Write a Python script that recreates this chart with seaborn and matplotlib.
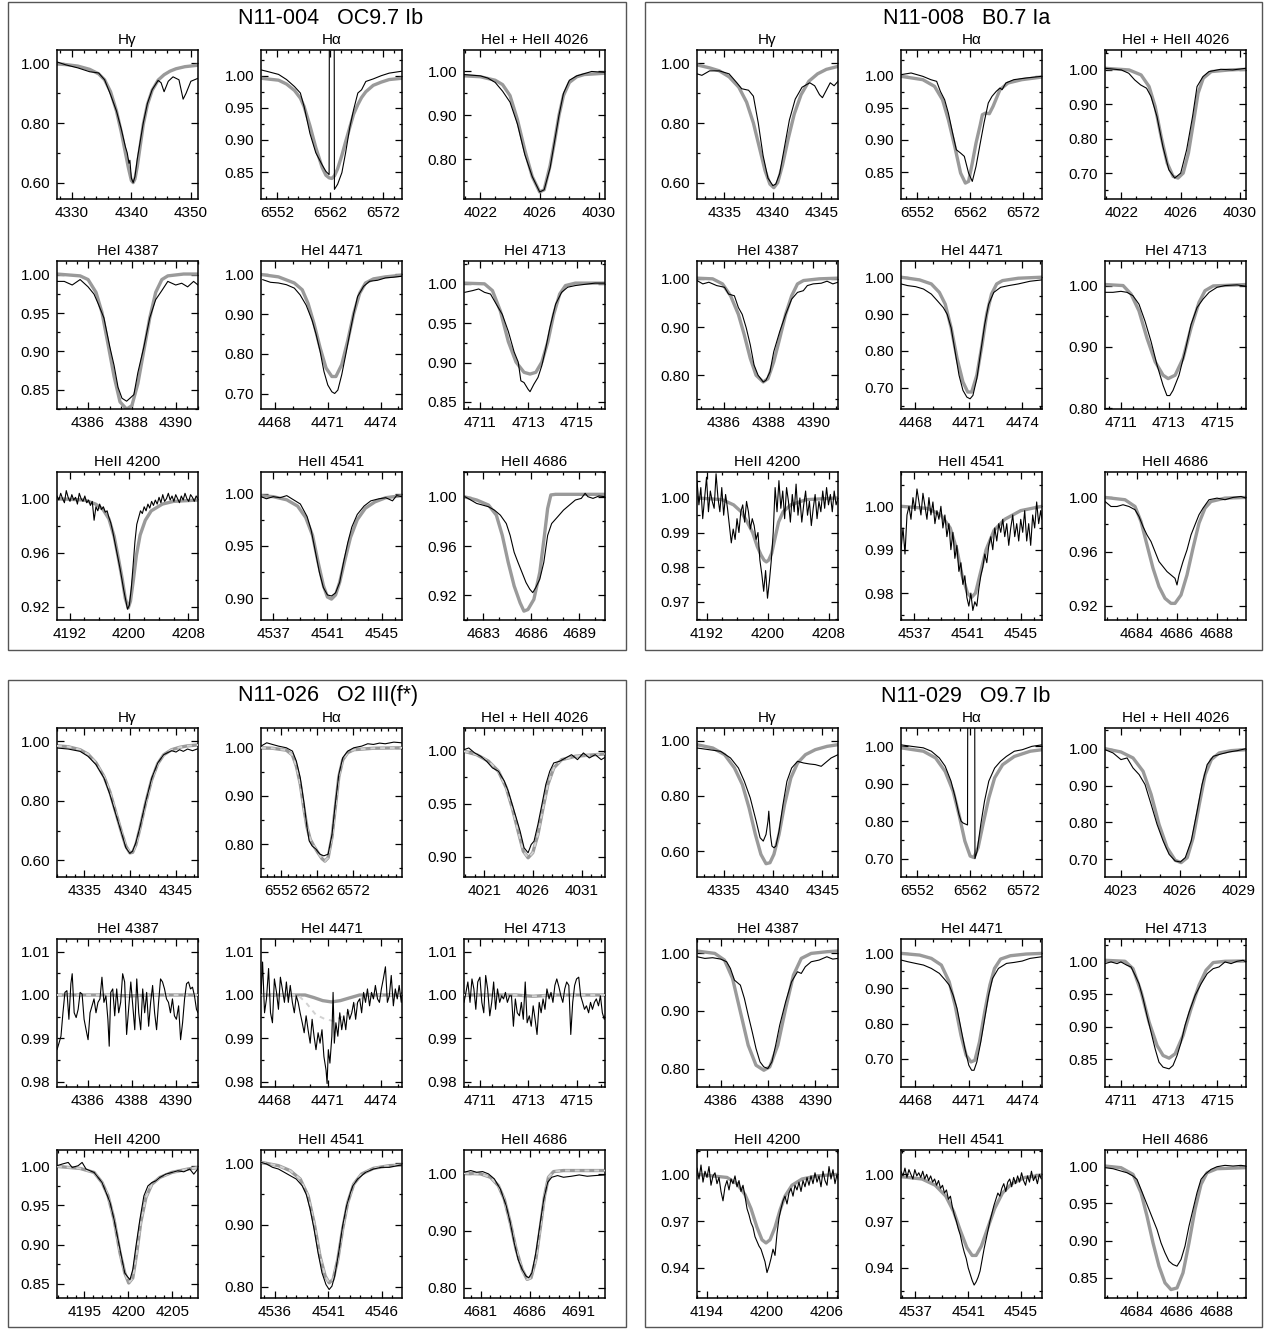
import matplotlib
matplotlib.use("Agg")
import matplotlib.pyplot as plt
import seaborn as sns
from matplotlib.ticker import FixedLocator, AutoMinorLocator, FormatStrFormatter
from matplotlib.patches import Rectangle

# ---------------------------------------------------------------- titles
STAR_TITLES = ["N11-004   OC9.7 Ib", "N11-008   B0.7 Ia",
               "N11-026   O2 III(f*)", "N11-029   O9.7 Ib"]
LINE_NAMES = ["H\u03b3", "H\u03b1", "HeI + HeII 4026",
              "HeI 4387", "HeI 4471", "HeI 4713",
              "HeII 4200", "HeII 4541", "HeII 4686"]

# ---------------------------------------------------------------- axis ranges / ticks
XLIM_A = [(4327.5, 4351.2), (6549.0, 6575.5), (4020.9, 4030.4), (4384.6, 4391.0), (4467.2, 4475.2),
          (4710.33, 4716.18), (4190.3, 4209.3), (4536.1, 4546.5), (4681.8, 4690.6)]
XTICKS_A = [[4330, 4340, 4350], [6552, 6562, 6572], [4022, 4026, 4030], [4386, 4388, 4390], [4468, 4471, 4474],
            [4711, 4713, 4715], [4192, 4200, 4208], [4537, 4541, 4545], [4683, 4686, 4689]]
YLIM_A = [(0.545, 1.045), (0.808, 1.040), (0.709, 1.049), (0.825, 1.018), (0.661, 1.034),
          (0.841, 1.029), (0.910, 1.0198), (0.879, 1.0206), (0.900, 1.020)]
YTICKS_A = [[0.6, 0.8, 1.0], [0.85, 0.9, 0.95, 1.0], [0.8, 0.9, 1.0], [0.85, 0.9, 0.95, 1.0], [0.7, 0.8, 0.9, 1.0],
            [0.85, 0.9, 0.95, 1.0], [0.92, 0.96, 1.0], [0.9, 0.95, 1.0], [0.92, 0.96, 1.0]]

XLIM_B = [(4332.2, 4346.7), (6549.0, 6575.5), (4020.9, 4030.4), (4384.8, 4391.1), (4467.2, 4475.1),
          (4710.35, 4716.2), (4190.7, 4209.2), (4536.0, 4546.6), (4682.4, 4689.45)]
XTICKS_B = [[4335, 4340, 4345], [6552, 6562, 6572], [4022, 4026, 4030], [4386, 4388, 4390], [4468, 4471, 4474],
            [4711, 4713, 4715], [4192, 4200, 4208], [4537, 4541, 4545], [4684, 4686, 4688]]
YLIM_B = [(0.545, 1.045), (0.808, 1.040), (0.6245, 1.058), (0.73, 1.037), (0.642, 1.044),
          (0.799, 1.04), (0.9647, 1.0075), (0.9738, 1.0079), (0.9094, 1.0188)]
YTICKS_B = [[0.6, 0.8, 1.0], [0.85, 0.9, 0.95, 1.0], [0.7, 0.8, 0.9, 1.0], [0.8, 0.9, 1.0], [0.7, 0.8, 0.9, 1.0],
            [0.8, 0.9, 1.0], [0.97, 0.98, 0.99, 1.0], [0.98, 0.99, 1.0], [0.92, 0.96, 1.0]]

XLIM_C = [(4332.0, 4347.4), (6546.3, 6585.8), (4018.9, 4033.4), (4384.6, 4391.0), (4467.2, 4475.2),
          (4710.33, 4716.18), (4191.9, 4207.9), (4534.7, 4547.9), (4679.3, 4693.7)]
XTICKS_C = [[4335, 4340, 4345], [6552, 6562, 6572], [4021, 4026, 4031], [4386, 4388, 4390], [4468, 4471, 4474],
            [4711, 4713, 4715], [4195, 4200, 4205], [4536, 4541, 4546], [4681, 4686, 4691]]
YLIM_C = [(0.544, 1.045), (0.732, 1.041), (0.881, 1.0213), (0.9788, 1.0129), (0.9788, 1.0129),
          (0.9788, 1.0129), (0.8316, 1.021), (0.782, 1.021), (0.782, 1.042)]
YTICKS_C = [[0.6, 0.8, 1.0], [0.8, 0.9, 1.0], [0.9, 0.95, 1.0], [0.98, 0.99, 1.0, 1.01], [0.98, 0.99, 1.0, 1.01],
            [0.98, 0.99, 1.0, 1.01], [0.85, 0.9, 0.95, 1.0], [0.8, 0.9, 1.0], [0.8, 0.9, 1.0]]

XLIM_D = [(4332.3, 4346.6), (6549.0, 6575.5), (4022.2, 4029.35), (4385.0, 4390.95), (4467.2, 4475.1),
          (4710.35, 4716.2), (4193.0, 4207.1), (4535.9, 4546.6), (4682.4, 4689.45)]
XTICKS_D = [[4335, 4340, 4345], [6552, 6562, 6572], [4023, 4026, 4029], [4386, 4388, 4390], [4468, 4471, 4474],
            [4711, 4713, 4715], [4194, 4200, 4206], [4537, 4541, 4545], [4684, 4686, 4688]]
YLIM_D = [(0.506, 1.046), (0.651, 1.049), (0.652, 1.056), (0.768, 1.025), (0.619, 1.041),
          (0.808, 1.034), (0.9207, 1.0156), (0.9207, 1.0156), (0.823, 1.0215)]
YTICKS_D = [[0.6, 0.8, 1.0], [0.7, 0.8, 0.9, 1.0], [0.7, 0.8, 0.9, 1.0], [0.8, 0.9, 1.0], [0.7, 0.8, 0.9, 1.0],
            [0.85, 0.9, 0.95, 1.0], [0.94, 0.97, 1.0], [0.94, 0.97, 1.0], [0.85, 0.9, 0.95, 1.0]]

# ================================================================ N11-004
A1_WL = [4327.5, 4329.0, 4331.0, 4333.0, 4334.5, 4335.5, 4336.5, 4337.5, 4338.3, 4339.0, 4339.3, 4339.6, 4339.75,
         4340.0, 4340.3, 4340.6, 4341.0, 4341.5, 4342.0, 4342.7, 4343.5, 4344.5, 4345.0, 4345.5, 4346.2, 4347.0,
         4348.0, 4348.7, 4349.2, 4350.0, 4351.2]
A1_OBS = [1.005, 0.995, 0.985, 0.972, 0.968, 0.945, 0.895, 0.84, 0.78, 0.72, 0.70, 0.665, 0.675, 0.615, 0.60, 0.62,
          0.68, 0.74, 0.80, 0.866, 0.912, 0.943, 0.935, 0.905, 0.94, 0.955, 0.945, 0.88, 0.90, 0.94, 0.95]
A1_MWL = [4327.5, 4329.0, 4331.0, 4333.0, 4334.5, 4335.5, 4336.5, 4337.5, 4338.3, 4339.0, 4339.5, 4340.0, 4340.3,
          4340.6, 4341.0, 4341.5, 4342.0, 4342.7, 4343.5, 4344.5, 4345.5, 4346.5, 4347.5, 4349.0, 4351.2]
A1_MOD = [0.998, 0.996, 0.991, 0.980, 0.965, 0.945, 0.905, 0.84, 0.77, 0.70, 0.65, 0.607, 0.60, 0.612, 0.655, 0.725,
          0.795, 0.862, 0.91, 0.944, 0.962, 0.974, 0.982, 0.989, 0.994]

A2_WL = [6549.0, 6550.0, 6552.3, 6553.8, 6555.3, 6556.4, 6557.1, 6558.2, 6559.3, 6560.5, 6561.2, 6561.8, 6561.85,
         6562.75, 6562.8, 6563.4, 6564.2, 6564.9, 6565.7, 6566.4, 6567.2, 6567.9, 6568.7, 6570.1, 6571.6, 6573.1,
         6575.5]
A2_OBS = [1.009, 1.007, 1.002, 0.994, 0.983, 0.973, 0.952, 0.91, 0.88, 0.861, 0.851, 0.846, 1.10, 1.10, 0.823,
          0.831, 0.849, 0.88, 0.92, 0.947, 0.973, 0.978, 0.991, 0.995, 1.0, 1.004, 1.007]
A2_MWL = [6549.0, 6552.3, 6553.8, 6555.3, 6556.4, 6557.1, 6558.2, 6559.3, 6560.5, 6561.2, 6561.8, 6562.3, 6562.8,
          6563.4, 6564.2, 6564.9, 6565.7, 6566.4, 6567.2, 6567.9, 6568.7, 6570.1, 6571.6, 6573.1, 6575.5]
A2_MOD = [0.996, 0.993, 0.987, 0.977, 0.965, 0.952, 0.922, 0.888, 0.857, 0.845, 0.841, 0.84, 0.844, 0.855, 0.876,
          0.897, 0.92, 0.94, 0.955, 0.966, 0.975, 0.985, 0.99, 0.994, 0.996]

A3_WL = [4020.9, 4022.0, 4022.5, 4023.0, 4023.5, 4024.0, 4024.5, 4025.0, 4025.5, 4026.0, 4026.3, 4026.7, 4027.0,
         4027.3, 4027.6, 4028.0, 4028.5, 4029.0, 4029.5, 4030.4]
A3_OBS = [0.993, 0.99, 0.985, 0.975, 0.955, 0.93, 0.88, 0.81, 0.76, 0.725, 0.73, 0.78, 0.84, 0.90, 0.95, 0.98, 0.99,
          0.995, 1.0, 0.998]
A3_MWL = [4020.9, 4022.0, 4023.0, 4023.5, 4024.0, 4024.5, 4025.0, 4025.5, 4026.0, 4026.3, 4026.7, 4027.0, 4027.3,
          4027.6, 4028.0, 4028.5, 4029.0, 4030.4]
A3_MOD = [0.99, 0.988, 0.98, 0.97, 0.945, 0.89, 0.82, 0.76, 0.725, 0.73, 0.785, 0.84, 0.90, 0.945, 0.975, 0.988,
          0.993, 0.996]

A4_WL = [4384.6, 4384.93, 4385.29, 4385.65, 4386.01, 4386.28, 4386.46, 4386.73, 4387.0, 4387.19, 4387.37, 4387.55,
         4387.76, 4387.91, 4388.09, 4388.27, 4388.54, 4388.81, 4389.08, 4389.36, 4389.63, 4389.99, 4390.26, 4390.53,
         4390.8, 4391.0]
A4_OBS = [0.9914, 0.9914, 0.9867, 0.9938, 0.9843, 0.9748, 0.9629, 0.9438, 0.9057, 0.8819, 0.8533, 0.839, 0.8352,
          0.839, 0.8438, 0.8724, 0.9057, 0.9438, 0.9676, 0.9795, 0.9914, 0.9867, 0.989, 0.9843, 0.9914, 0.9867]
A4_MWL = [4384.6, 4385.65, 4386.01, 4386.37, 4386.64, 4386.91, 4387.19, 4387.46, 4387.76, 4388.0, 4388.27, 4388.54,
          4388.81, 4389.08, 4389.36, 4389.63, 4390.35, 4391.0]
A4_MOD = [1.001, 0.9986, 0.9938, 0.9771, 0.951, 0.9105, 0.8676, 0.8343, 0.8248, 0.8295, 0.8581, 0.901, 0.9438,
          0.9771, 0.9938, 0.9986, 1.001, 1.001]

A5_WL = [4467.29, 4467.74, 4468.19, 4468.64, 4469.09, 4469.42, 4469.76, 4470.1, 4470.32, 4470.55, 4470.77, 4470.99,
         4471.22, 4471.38, 4471.56, 4471.78, 4472.01, 4472.23, 4472.46, 4472.68, 4473.02, 4473.36, 4473.81, 4474.26,
         4474.71, 4475.2]
A5_OBS = [0.9871, 0.9803, 0.9786, 0.9743, 0.9657, 0.9486, 0.9229, 0.8843, 0.85, 0.8072, 0.7558, 0.7215, 0.7044,
          0.7001, 0.7087, 0.7472, 0.7986, 0.85, 0.9015, 0.9443, 0.97, 0.9829, 0.9854, 0.9914, 0.9931, 0.9957]
A5_MWL = [4467.2, 4468.19, 4469.09, 4469.54, 4469.87, 4470.21, 4470.55, 4470.89, 4471.22, 4471.45, 4471.78, 4472.12,
          4472.46, 4472.8, 4473.13, 4473.58, 4474.26, 4475.2]
A5_MOD = [1.0, 0.994, 0.9786, 0.9614, 0.9272, 0.8757, 0.8158, 0.7644, 0.7429, 0.7429, 0.7729, 0.8329, 0.9015,
          0.9529, 0.9786, 0.9889, 0.994, 0.9983]

A6_WL = [4710.36, 4710.69, 4710.94, 4711.18, 4711.43, 4711.67, 4711.92, 4712.17, 4712.41, 4712.58, 4712.69, 4712.82,
         4712.99, 4713.07, 4713.23, 4713.4, 4713.56, 4713.72, 4713.89, 4714.13, 4714.38, 4714.63, 4714.95, 4715.28,
         4715.77, 4716.18]
A6_OBS = [0.9892, 0.9914, 0.9935, 0.9892, 0.987, 0.9741, 0.9611, 0.9395, 0.9135, 0.9006, 0.8768, 0.8746, 0.866,
          0.863, 0.8725, 0.8811, 0.8962, 0.9179, 0.9438, 0.9741, 0.9892, 0.9957, 0.9978, 0.9991, 1.0009, 1.0009]
A6_MWL = [4710.33, 4711.18, 4711.51, 4711.84, 4712.17, 4712.49, 4712.82, 4713.07, 4713.31, 4713.56, 4713.81,
          4714.05, 4714.3, 4714.54, 4714.95, 4716.18]
A6_MOD = [1.0009, 1.0, 0.9914, 0.9654, 0.9265, 0.9006, 0.8876, 0.8854, 0.8876, 0.9006, 0.9265, 0.9611, 0.987,
          0.9978, 1.0009, 1.0009]

A7_WL = [4190.30, 4190.55, 4190.80, 4191.05, 4191.30, 4191.55, 4191.80, 4192.05, 4192.30, 4192.55,
         4192.80, 4193.05, 4193.30, 4193.55, 4193.80, 4194.05, 4194.30, 4194.55, 4194.80, 4195.05,
         4195.30, 4195.55, 4195.80, 4196.05, 4196.30, 4196.55, 4196.80, 4197.05, 4197.30, 4197.55,
         4197.80, 4198.05, 4198.30, 4198.55, 4198.80, 4199.05, 4199.30, 4199.55, 4199.80, 4200.05,
         4200.30, 4200.55, 4200.80, 4201.05, 4201.30, 4201.55, 4201.80, 4202.05, 4202.30, 4202.55,
         4202.80, 4203.05, 4203.30, 4203.55, 4203.80, 4204.05, 4204.30, 4204.55, 4204.80, 4205.05,
         4205.30, 4205.55, 4205.80, 4206.05, 4206.30, 4206.55, 4206.80, 4207.05, 4207.30, 4207.55,
         4207.80, 4208.05, 4208.30, 4208.55, 4208.80, 4209.05, 4209.30]
A7_OBS = [1.002, 0.999, 1.004, 1.000, 0.997, 1.006, 1.001, 0.998, 1.003, 0.999,
          1.001, 0.996, 1.004, 1.000, 0.998, 1.002, 0.997, 0.999, 0.995, 0.998,
          0.984, 0.994, 0.991, 0.996, 0.992, 0.994, 0.990, 0.991, 0.986, 0.982,
          0.976, 0.969, 0.962, 0.955, 0.948, 0.940, 0.932, 0.925, 0.918, 0.921,
          0.933, 0.950, 0.968, 0.981, 0.986, 0.991, 0.989, 0.994, 0.991, 0.996,
          0.993, 0.998, 0.995, 0.999, 0.996, 1.001, 0.997, 1.003, 0.998, 1.000,
          1.004, 0.999, 1.002, 0.998, 1.003, 1.000, 0.997, 1.002, 0.999, 1.004,
          1.000, 0.998, 1.003, 1.001, 0.998, 1.002, 1.000]
A7_MWL = [4190.3, 4194.0, 4195.5, 4196.5, 4197.3, 4198.0, 4198.6, 4199.1, 4199.5, 4199.9, 4200.2, 4200.6, 4201.0,
          4201.5, 4202.2, 4203.0, 4204.5, 4206.0, 4209.3]
A7_MOD = [1.0, 0.999, 0.996, 0.992, 0.985, 0.972, 0.955, 0.94, 0.926, 0.919, 0.924, 0.94, 0.958, 0.973, 0.984,
          0.991, 0.996, 0.998, 0.999]

A8_WL = [4536.1, 4536.5, 4537.0, 4537.5, 4538.0, 4538.5, 4539.0, 4539.5, 4539.8, 4540.1, 4540.4, 4540.7, 4541.0,
         4541.3, 4541.6, 4541.9, 4542.2, 4542.5, 4542.8, 4543.2, 4543.7, 4544.2, 4544.8, 4545.3, 4545.8, 4546.1,
         4546.5]
A8_OBS = [0.997, 0.995, 0.997, 0.996, 0.998, 0.994, 0.99, 0.978, 0.965, 0.945, 0.925, 0.91, 0.903, 0.902, 0.905,
          0.915, 0.935, 0.953, 0.968, 0.98, 0.988, 0.993, 0.995, 0.996, 0.993, 0.998, 0.997]
A8_MWL = [4536.1, 4537.0, 4538.0, 4538.8, 4539.4, 4539.9, 4540.3, 4540.7, 4541.0, 4541.3, 4541.6, 4541.9, 4542.3,
          4542.7, 4543.2, 4543.8, 4544.5, 4545.3, 4546.5]
A8_MOD = [0.998, 0.997, 0.994, 0.988, 0.977, 0.96, 0.935, 0.912, 0.901, 0.899, 0.903, 0.915, 0.937, 0.958, 0.975,
          0.986, 0.992, 0.996, 0.998]

A9_WL = [4681.85, 4682.22, 4682.59, 4682.96, 4683.33, 4683.7, 4684.07, 4684.44, 4684.68, 4684.93, 4685.17, 4685.42,
         4685.67, 4685.91, 4686.09, 4686.28, 4686.53, 4686.78, 4687.02, 4687.27, 4687.64, 4688.01, 4688.38, 4688.75,
         4689.12, 4689.36, 4689.53, 4689.85, 4690.22, 4690.6]
A9_OBS = [1.0, 0.9973, 0.9945, 0.9932, 0.9918, 0.9891, 0.985, 0.9782, 0.9686, 0.9549, 0.9467, 0.9386, 0.9304,
          0.9249, 0.9222, 0.9263, 0.9331, 0.9467, 0.9686, 0.9782, 0.9836, 0.9891, 0.9932, 0.9973, 0.9986, 1.0027,
          1.0, 0.9986, 1.0005, 1.0]
A9_MWL = [4681.8, 4682.59, 4683.33, 4683.82, 4684.19, 4684.56, 4684.93, 4685.3, 4685.54, 4685.79, 4686.16, 4686.53,
          4686.82, 4687.02, 4687.22, 4687.51, 4690.6]
A9_MOD = [1.0, 0.9973, 0.9932, 0.985, 0.9686, 0.9467, 0.9276, 0.914, 0.9072, 0.9085, 0.9167, 0.9386, 0.9686,
          0.9904, 1.0014, 1.0019, 1.0019]

# ================================================================ N11-008
B1_WL = [4332.2, 4332.7, 4333.5, 4334.5, 4335.5, 4336.3, 4336.8, 4337.5, 4338.0, 4338.5, 4339.0, 4339.5, 4340.0,
         4340.3, 4340.7, 4341.2, 4341.7, 4342.3, 4343.0, 4343.8, 4344.3, 4344.8, 4345.1, 4345.5, 4345.9, 4346.3,
         4346.7]
B1_OBS = [0.965, 0.96, 0.975, 0.975, 0.965, 0.935, 0.915, 0.91, 0.89, 0.80, 0.69, 0.615, 0.59, 0.595, 0.63, 0.72,
          0.81, 0.88, 0.92, 0.935, 0.925, 0.895, 0.885, 0.91, 0.935, 0.925, 0.94]
B1_MWL = [4332.2, 4333.5, 4334.5, 4335.5, 4336.5, 4337.3, 4338.0, 4338.6, 4339.2, 4339.7, 4340.1, 4340.5, 4341.0,
          4341.6, 4342.2, 4342.9, 4343.7, 4344.6, 4345.5, 4346.7]
B1_MOD = [0.995, 0.985, 0.975, 0.955, 0.92, 0.87, 0.80, 0.72, 0.64, 0.595, 0.583, 0.60, 0.66, 0.75, 0.83, 0.895,
          0.94, 0.965, 0.98, 0.99]

B2_WL = [6549.0, 6550.9, 6553.1, 6554.6, 6555.7, 6556.4, 6557.2, 6557.9, 6558.7, 6559.4, 6560.2, 6560.9, 6561.7,
         6562.4, 6563.1, 6563.9, 6564.6, 6565.4, 6566.1, 6566.9, 6567.6, 6568.0, 6568.7, 6570.2, 6572.5, 6575.4]
B2_OBS = [1.0016, 1.0042, 0.999, 0.9938, 0.9912, 0.9756, 0.9626, 0.9418, 0.9107, 0.8847, 0.8795, 0.8744, 0.8484,
          0.8354, 0.8588, 0.8951, 0.9263, 0.9574, 0.9678, 0.9756, 0.9808, 0.9782, 0.9886, 0.9938, 0.9964, 0.999]
B2_MWL = [6549.0, 6553.1, 6555.3, 6556.8, 6557.9, 6559.1, 6560.2, 6561.1, 6561.7, 6562.4, 6563.1, 6563.9, 6564.3,
          6564.9, 6565.6, 6566.3, 6567.6, 6569.1, 6571.7, 6575.5]
B2_MOD = [0.999, 0.9938, 0.9834, 0.9626, 0.9315, 0.8899, 0.8484, 0.8328, 0.8354, 0.864, 0.8951, 0.9237, 0.9393,
          0.9418, 0.9408, 0.9522, 0.9782, 0.9886, 0.9938, 0.9979]

B3_WL = [4020.9, 4022.0, 4022.5, 4022.9, 4023.3, 4023.7, 4024.0, 4024.4, 4024.8, 4025.2, 4025.6, 4026.0, 4026.4,
         4026.8, 4027.1, 4027.5, 4027.9, 4028.7, 4029.5, 4030.4]
B3_OBS = [1.0048, 1.0, 0.9903, 0.971, 0.9564, 0.9468, 0.9226, 0.8645, 0.7773, 0.7096, 0.6854, 0.6999, 0.7677,
          0.8645, 0.9516, 0.9806, 0.9952, 1.0019, 1.0, 1.0048]
B3_MWL = [4020.9, 4022.52, 4023.33, 4023.87, 4024.28, 4024.68, 4025.09, 4025.49, 4025.82, 4026.17, 4026.52,
          4026.85, 4027.17, 4027.52, 4028.06, 4029.28, 4030.41]
B3_MOD = [1.0048, 1.0, 0.9855, 0.9516, 0.8935, 0.8064, 0.7289, 0.6902, 0.6854, 0.6999, 0.758, 0.8451, 0.9322,
          0.9758, 0.9952, 1.0, 1.0019]

B4_WL = [4384.8, 4385.06, 4385.33, 4385.68, 4386.03, 4386.21, 4386.47, 4386.65, 4386.82, 4387.0, 4387.18, 4387.35,
         4387.53, 4387.76, 4387.88, 4388.06, 4388.23, 4388.5, 4388.76, 4389.03, 4389.29, 4389.55, 4389.73, 4389.99,
         4390.35, 4390.61, 4390.87, 4391.1]
B4_OBS = [0.9965, 0.9895, 0.993, 0.986, 0.9825, 0.9684, 0.9649, 0.9404, 0.9263, 0.8982, 0.8632, 0.8211, 0.8, 0.786,
          0.7895, 0.807, 0.8491, 0.8912, 0.9263, 0.9579, 0.9719, 0.9754, 0.986, 0.9895, 0.9909, 0.9951, 0.9895, 0.993]
B4_MWL = [4384.8, 4385.5, 4385.94, 4386.3, 4386.65, 4386.91, 4387.18, 4387.44, 4387.76, 4387.97, 4388.23, 4388.5,
          4388.76, 4389.03, 4389.29, 4389.56, 4390.26, 4391.1]
B4_MOD = [1.0014, 1.0, 0.9895, 0.9649, 0.9263, 0.8842, 0.8351, 0.8, 0.786, 0.793, 0.8281, 0.8772, 0.9263, 0.9649,
          0.9895, 0.9965, 1.0, 1.0014]

B5_WL = [4467.2, 4467.58, 4468.02, 4468.46, 4468.9, 4469.24, 4469.57, 4469.79, 4470.01, 4470.23, 4470.45, 4470.67,
         4470.89, 4471.07, 4471.23, 4471.45, 4471.67, 4471.89, 4472.11, 4472.4, 4472.78, 4473.22, 4473.77, 4474.43,
         4475.1]
B5_OBS = [0.9817, 0.9771, 0.9743, 0.9679, 0.9541, 0.9358, 0.9174, 0.8991, 0.8624, 0.7982, 0.7339, 0.6927, 0.6743,
          0.6697, 0.6789, 0.7248, 0.7982, 0.8716, 0.9266, 0.9587, 0.9725, 0.9771, 0.9817, 0.989, 0.9927]
B5_MWL = [4467.2, 4468.24, 4468.9, 4469.35, 4469.68, 4470.01, 4470.34, 4470.67, 4470.94, 4471.16, 4471.45, 4471.74,
          4472.0, 4472.27, 4472.56, 4472.89, 4473.77, 4475.1]
B5_MOD = [1.0, 0.9927, 0.9817, 0.9587, 0.9266, 0.8624, 0.7798, 0.7156, 0.6881, 0.6881, 0.7339, 0.8165, 0.8991,
          0.9541, 0.9817, 0.9908, 0.9972, 1.0]

B6_WL = [4710.35, 4710.68, 4711.01, 4711.26, 4711.51, 4711.76, 4712.01, 4712.26, 4712.51, 4712.76, 4712.92, 4713.04,
         4713.17, 4713.42, 4713.67, 4713.92, 4714.17, 4714.42, 4714.67, 4715.0, 4715.33, 4715.83, 4716.2]
B6_OBS = [0.989, 0.989, 0.9906, 0.989, 0.9835, 0.9697, 0.9421, 0.9091, 0.8705, 0.8375, 0.8209, 0.8209, 0.8292,
          0.854, 0.8926, 0.9366, 0.9642, 0.978, 0.989, 0.9972, 1.0, 1.0011, 0.9989]
B6_MWL = [4710.35, 4711.1, 4711.43, 4711.76, 4712.09, 4712.43, 4712.76, 4712.97, 4713.26, 4713.59, 4713.92, 4714.25,
          4714.5, 4714.84, 4716.2]
B6_MOD = [1.0017, 1.0, 0.9862, 0.9587, 0.9146, 0.876, 0.854, 0.8485, 0.854, 0.8815, 0.9311, 0.9725, 0.9917, 0.9994,
          1.0017]

B7_WL = [4190.70, 4190.95, 4191.20, 4191.45, 4191.70, 4191.95, 4192.20, 4192.45, 4192.70, 4192.95,
         4193.20, 4193.45, 4193.70, 4193.95, 4194.20, 4194.45, 4194.70, 4194.95, 4195.20, 4195.45,
         4195.70, 4195.95, 4196.20, 4196.45, 4196.70, 4196.95, 4197.20, 4197.45, 4197.70, 4197.95,
         4198.20, 4198.45, 4198.70, 4198.95, 4199.20, 4199.45, 4199.70, 4199.95, 4200.20, 4200.45,
         4200.70, 4200.95, 4201.20, 4201.45, 4201.70, 4201.95, 4202.20, 4202.45, 4202.70, 4202.95,
         4203.20, 4203.45, 4203.70, 4203.95, 4204.20, 4204.45, 4204.70, 4204.95, 4205.20, 4205.45,
         4205.70, 4205.95, 4206.20, 4206.45, 4206.70, 4206.95, 4207.20, 4207.45, 4207.70, 4207.95,
         4208.20, 4208.45, 4208.70, 4208.95, 4209.20]
B7_OBS = [1.005, 0.998, 1.003, 0.994, 1.000, 1.006, 0.996, 1.002, 0.999, 0.997,
          1.007, 1.000, 0.996, 1.003, 0.995, 1.001, 0.997, 0.992, 0.987, 0.991,
          0.988, 0.994, 0.990, 0.996, 0.998, 0.993, 0.999, 0.996, 0.991, 0.994,
          0.992, 0.988, 0.990, 0.982, 0.978, 0.973, 0.979, 0.971, 0.976, 0.982,
          0.990, 1.003, 0.996, 1.005, 0.997, 1.002, 0.994, 1.003, 0.999, 0.993,
          1.001, 0.996, 1.004, 0.995, 1.000, 0.993, 0.998, 1.002, 0.995, 0.999,
          0.992, 0.997, 1.001, 0.994, 0.999, 0.996, 1.002, 0.997, 1.003, 0.998,
          1.001, 0.996, 1.002, 0.998, 1.000]
B7_MWL = [4190.7, 4194.0, 4195.5, 4196.5, 4197.3, 4198.0, 4198.6, 4199.1, 4199.5, 4199.8, 4200.1, 4200.5, 4200.9,
          4201.4, 4202.0, 4203.0, 4205.0, 4209.2]
B7_MOD = [1.0, 0.9995, 0.998, 0.996, 0.993, 0.99, 0.986, 0.9835, 0.982, 0.9815, 0.982, 0.984, 0.988, 0.993, 0.996,
          0.998, 0.9995, 1.0]

B8_WL = [4536.00, 4536.15, 4536.30, 4536.45, 4536.60, 4536.75, 4536.90, 4537.05, 4537.20, 4537.35,
         4537.50, 4537.65, 4537.80, 4537.95, 4538.10, 4538.25, 4538.40, 4538.55, 4538.70, 4538.85,
         4539.00, 4539.15, 4539.30, 4539.45, 4539.60, 4539.75, 4539.90, 4540.05, 4540.20, 4540.35,
         4540.50, 4540.65, 4540.80, 4540.95, 4541.10, 4541.25, 4541.40, 4541.55, 4541.70, 4541.85,
         4542.00, 4542.15, 4542.30, 4542.45, 4542.60, 4542.75, 4542.90, 4543.05, 4543.20, 4543.35,
         4543.50, 4543.65, 4543.80, 4543.95, 4544.10, 4544.25, 4544.40, 4544.55, 4544.70, 4544.85,
         4545.00, 4545.15, 4545.30, 4545.45, 4545.60, 4545.75, 4545.90, 4546.05, 4546.20, 4546.35,
         4546.50, 4546.60]
B8_OBS = [0.990, 0.995, 0.989, 0.998, 1.000, 0.997, 1.002, 0.999, 1.004, 1.001,
          0.998, 1.003, 1.000, 0.997, 1.002, 0.998, 1.001, 0.996, 0.999, 0.997,
          1.000, 0.995, 0.998, 0.993, 0.996, 0.990, 0.994, 0.988, 0.991, 0.985,
          0.987, 0.982, 0.984, 0.979, 0.977, 0.980, 0.976, 0.978, 0.977, 0.981,
          0.984, 0.986, 0.989, 0.987, 0.991, 0.993, 0.990, 0.995, 0.992, 0.996,
          0.994, 0.997, 0.993, 0.996, 0.991, 0.995, 0.998, 0.993, 0.996, 0.992,
          0.997, 0.994, 0.999, 0.992, 0.996, 0.991, 0.998, 0.995, 1.001, 0.996,
          0.999, 0.997]
B8_MWL = [4536.0, 4538.0, 4539.0, 4539.7, 4540.2, 4540.6, 4541.0, 4541.3, 4541.6, 4542.0, 4542.4, 4543.0, 4543.8,
          4545.0, 4546.6]
B8_MOD = [1.0, 0.9995, 0.998, 0.995, 0.99, 0.984, 0.98, 0.979, 0.98, 0.985, 0.99, 0.9945, 0.997, 0.999, 1.0]

B9_WL = [4682.4, 4682.7, 4683.0, 4683.3, 4683.6, 4683.9, 4684.1, 4684.3, 4684.5, 4684.7, 4684.9, 4685.1, 4685.3,
         4685.5, 4685.7, 4685.9, 4686.0, 4686.1, 4686.3, 4686.5, 4686.7, 4686.9, 4687.1, 4687.3, 4687.6, 4688.0,
         4688.4, 4688.8, 4689.2, 4689.45]
B9_OBS = [0.997, 0.9933, 0.9933, 0.9946, 0.9933, 0.9909, 0.9859, 0.9785, 0.9723, 0.9674, 0.96, 0.9526, 0.9489,
          0.9452, 0.9427, 0.9402, 0.9353, 0.9427, 0.9526, 0.9612, 0.9723, 0.9798, 0.9872, 0.9921, 0.9983, 0.9995,
          0.9983, 1.0, 1.0007, 0.9995]
B9_MWL = [4682.4, 4683.4, 4683.9, 4684.2, 4684.5, 4684.8, 4685.1, 4685.4, 4685.7, 4685.9, 4686.2, 4686.5, 4686.8,
          4687.1, 4687.4, 4687.7, 4688.4, 4689.45]
B9_MOD = [1.0, 0.9983, 0.9933, 0.9822, 0.9649, 0.9477, 0.9341, 0.9254, 0.9217, 0.9217, 0.9279, 0.9427, 0.9625,
          0.981, 0.9921, 0.997, 0.9995, 1.0]

# ================================================================ N11-026
C1_WL = [4332.0, 4333.22, 4334.52, 4335.39, 4336.26, 4337.13, 4337.78, 4338.43, 4339.09, 4339.52, 4339.96, 4340.26,
         4340.61, 4341.04, 4341.7, 4342.35, 4343.0, 4343.65, 4344.52, 4345.0, 4345.39, 4345.8, 4346.26, 4346.8,
         4347.4]
C1_OBS = [0.9777, 0.9743, 0.9665, 0.9497, 0.9218, 0.8771, 0.8212, 0.7542, 0.6872, 0.6425, 0.6235, 0.6313, 0.6592,
          0.7095, 0.7989, 0.8771, 0.9274, 0.9553, 0.9687, 0.9642, 0.9721, 0.9665, 0.9743, 0.9687, 0.9754]
C1_MWL = [4332.0, 4333.22, 4334.52, 4335.39, 4336.26, 4337.13, 4337.78, 4338.43, 4339.09, 4339.52, 4339.96,
          4340.26, 4340.61, 4341.04, 4341.7, 4342.35, 4343.0, 4343.65, 4344.52, 4345.39, 4346.26, 4347.4]
C1_MOD = [0.985, 0.982, 0.972, 0.957, 0.928, 0.882, 0.83, 0.76, 0.69, 0.648, 0.625, 0.627, 0.652, 0.705, 0.795,
          0.872, 0.925, 0.955, 0.972, 0.98, 0.985, 0.988]

C2_WL = [6546.3, 6547.9, 6549.5, 6551.2, 6553.4, 6555.1, 6556.2, 6557.3, 6558.4, 6559.2, 6559.8, 6560.6, 6561.7,
         6562.8, 6563.9, 6565.1, 6566.2, 6567.1, 6568.1, 6569.2, 6570.6, 6572.3, 6574.5, 6576.2, 6577.8, 6579.5,
         6581.1, 6583.5, 6585.8]
C2_OBS = [1.0034, 1.0103, 1.0069, 1.0034, 1.0, 0.9931, 0.9724, 0.9379, 0.8828, 0.8345, 0.8069, 0.7966, 0.7897,
          0.7793, 0.7759, 0.7793, 0.8207, 0.8828, 0.9448, 0.9793, 0.9931, 1.0, 1.0034, 1.0083, 1.0069, 1.0097,
          1.0083, 1.0117, 1.0103]
C2_MWL = [6546.3, 6549.5, 6553.4, 6555.1, 6556.2, 6557.3, 6558.4, 6559.2, 6560.1, 6561.2, 6562.3, 6563.4, 6564.2,
          6565.1, 6566.2, 6567.1, 6568.1, 6569.2, 6570.6, 6572.3, 6577.8, 6585.8]
C2_MOD = [1.0, 0.999, 0.995, 0.985, 0.962, 0.925, 0.87, 0.835, 0.81, 0.795, 0.782, 0.77, 0.765, 0.772, 0.815, 0.875,
          0.94, 0.975, 0.99, 0.996, 0.999, 1.0]

C3_WL = [4018.9, 4019.39, 4020.0, 4020.61, 4021.22, 4021.83, 4022.44, 4023.05, 4023.45, 4023.86, 4024.27, 4024.67,
         4025.08, 4025.49, 4025.81, 4026.1, 4026.5, 4026.91, 4027.31, 4027.72, 4028.13, 4028.74, 4029.35, 4029.96,
         4030.57, 4031.18, 4031.79, 4032.4, 4033.01, 4033.41]
C3_OBS = [1.0009, 1.0025, 0.9978, 0.9947, 0.99, 0.9837, 0.9806, 0.9712, 0.9618, 0.9492, 0.9367, 0.9241, 0.9085,
          0.9038, 0.9116, 0.9147, 0.9304, 0.9492, 0.968, 0.9806, 0.9884, 0.99, 0.9931, 0.9962, 0.9915, 0.9978,
          0.9931, 0.9962, 0.9915, 0.9937]
C3_MWL = [4018.9, 4020.2, 4021.42, 4022.44, 4023.25, 4023.86, 4024.47, 4025.0, 4025.49, 4025.97, 4026.5, 4027.03,
          4027.52, 4028.13, 4028.94, 4030.36, 4033.41]
C3_MOD = [0.9994, 0.9962, 0.99, 0.9806, 0.9649, 0.9461, 0.9241, 0.9053, 0.8991, 0.9038, 0.921, 0.9461, 0.968,
          0.9837, 0.9915, 0.9947, 0.9969]

C4_WL = [4384.60, 4384.69, 4384.78, 4384.87, 4384.96, 4385.05, 4385.14, 4385.23, 4385.29, 4385.38,
         4385.47, 4385.56, 4385.65, 4385.74, 4385.83, 4385.92, 4386.01, 4386.10, 4386.19, 4386.28,
         4386.37, 4386.46, 4386.55, 4386.64, 4386.73, 4386.82, 4386.91, 4386.97, 4387.04, 4387.13,
         4387.22, 4387.31, 4387.40, 4387.49, 4387.58, 4387.67, 4387.76, 4387.85, 4387.95, 4388.04,
         4388.13, 4388.22, 4388.31, 4388.40, 4388.49, 4388.58, 4388.67, 4388.76, 4388.85, 4388.94,
         4389.03, 4389.12, 4389.21, 4389.30, 4389.39, 4389.48, 4389.57, 4389.66, 4389.75, 4389.84,
         4389.93, 4390.02, 4390.12, 4390.21, 4390.30, 4390.39, 4390.48, 4390.57, 4390.66, 4390.75,
         4390.84, 4390.93, 4391.00]
C4_OBS = [0.9874, 0.9889, 0.9905, 0.9959, 1.0006, 1.0010, 0.9944, 1.0026, 1.0049, 0.9959,
          0.9948, 0.9967, 1.0006, 1.0002, 0.9944, 0.9920, 0.9897, 0.9959, 0.9975, 0.9991,
          0.9959, 0.9983, 0.9991, 1.0041, 0.9983, 0.9998, 0.9944, 0.9882, 1.0006, 1.0014,
          0.9952, 1.0014, 0.9959, 0.9983, 1.0049, 1.0030, 0.9909, 0.9967, 1.0030, 0.9975,
          0.9920, 1.0037, 0.9959, 0.9920, 1.0014, 0.9959, 1.0006, 0.9928, 0.9983, 1.0022,
          0.9959, 0.9920, 0.9983, 1.0037, 1.0030, 1.0014, 0.9991, 0.9983, 0.9959, 0.9991,
          0.9952, 0.9944, 0.9975, 0.9897, 0.9936, 0.9991, 1.0026, 1.0030, 1.0014, 1.0018,
          0.9998, 0.9967, 0.9959]
C4_MWL = [4384.6, 4387.0, 4387.9, 4388.8, 4391.0]
C4_MOD = [1.0, 1.0, 0.9998, 1.0, 1.0]

C5_WL = [4467.20, 4467.29, 4467.40, 4467.51, 4467.63, 4467.74, 4467.85, 4467.96, 4468.08, 4468.19,
         4468.30, 4468.41, 4468.53, 4468.64, 4468.75, 4468.86, 4468.98, 4469.09, 4469.20, 4469.31,
         4469.42, 4469.54, 4469.65, 4469.76, 4469.87, 4469.99, 4470.10, 4470.21, 4470.32, 4470.44,
         4470.55, 4470.66, 4470.77, 4470.89, 4470.95, 4471.02, 4471.11, 4471.22, 4471.29, 4471.36,
         4471.45, 4471.56, 4471.67, 4471.78, 4471.90, 4472.01, 4472.12, 4472.23, 4472.35, 4472.46,
         4472.57, 4472.68, 4472.80, 4472.91, 4473.02, 4473.13, 4473.24, 4473.36, 4473.47, 4473.58,
         4473.69, 4473.81, 4473.92, 4474.03, 4474.14, 4474.26, 4474.37, 4474.48, 4474.59, 4474.71,
         4474.82, 4474.93, 4475.04, 4475.16, 4475.20]
C5_OBS = [0.9998, 1.0076, 0.9959, 0.9991, 1.0061, 0.9959, 0.9936, 1.0037, 1.0006, 0.9967,
          1.0041, 1.0014, 0.9983, 1.0030, 0.9983, 1.0022, 0.9983, 0.9959, 0.9998, 0.9983,
          0.9959, 0.9936, 0.9913, 0.9952, 0.9920, 0.9889, 0.9944, 0.9905, 0.9874, 0.9913,
          0.9889, 0.9920, 0.9858, 0.9827, 0.9796, 0.9874, 0.9843, 0.9905, 1.0006, 0.9889,
          0.9936, 0.9905, 0.9959, 0.9920, 0.9952, 0.9920, 0.9967, 0.9944, 0.9959, 0.9983,
          0.9944, 0.9983, 0.9991, 0.9959, 1.0006, 0.9983, 1.0014, 0.9975, 1.0006, 0.9991,
          1.0022, 0.9991, 0.9983, 1.0014, 1.0037, 1.0065, 0.9983, 0.9998, 1.0045, 0.9975,
          1.0014, 0.9991, 1.0022, 0.9983, 1.0006]
C5_MWL = [4467.2, 4469.7, 4470.2, 4470.7, 4471.2, 4471.7, 4472.2, 4472.8, 4475.2]
C5_MOD = [1.0, 1.0, 0.9994, 0.9987, 0.9984, 0.9987, 0.9993, 1.0, 1.0]
C5_DWL = [4467.2, 4469.3, 4469.8, 4470.3, 4470.8, 4471.3, 4471.8, 4472.3, 4472.8, 4473.3, 4475.2]
C5_DOT = [1.0, 1.0, 0.998, 0.9955, 0.9945, 0.994, 0.995, 0.9965, 0.999, 1.0, 1.0]

C6_WL = [4710.33, 4710.41, 4710.49, 4710.58, 4710.66, 4710.74, 4710.82, 4710.90, 4710.99, 4711.07,
         4711.15, 4711.23, 4711.31, 4711.40, 4711.48, 4711.56, 4711.64, 4711.72, 4711.81, 4711.89,
         4711.97, 4712.05, 4712.13, 4712.22, 4712.30, 4712.38, 4712.46, 4712.54, 4712.63, 4712.71,
         4712.79, 4712.87, 4712.95, 4713.04, 4713.12, 4713.20, 4713.28, 4713.36, 4713.45, 4713.53,
         4713.61, 4713.69, 4713.77, 4713.86, 4713.94, 4714.02, 4714.10, 4714.18, 4714.27, 4714.35,
         4714.43, 4714.51, 4714.59, 4714.68, 4714.76, 4714.84, 4714.92, 4715.00, 4715.09, 4715.17,
         4715.25, 4715.33, 4715.41, 4715.50, 4715.58, 4715.66, 4715.74, 4715.82, 4715.91, 4715.99,
         4716.07, 4716.15, 4716.18]
C6_OBS = [0.9983, 1.0006, 1.0030, 0.9983, 1.0037, 1.0014, 0.9967, 1.0030, 1.0041, 0.9983,
          0.9959, 1.0045, 1.0014, 0.9952, 0.9983, 1.0030, 0.9967, 1.0014, 0.9983, 0.9998,
          0.9991, 1.0006, 0.9983, 0.9998, 0.9998, 0.9928, 0.9991, 0.9959, 0.9952, 0.9983,
          0.9944, 1.0030, 0.9936, 0.9952, 0.9928, 0.9975, 0.9944, 0.9909, 0.9983, 0.9959,
          0.9991, 0.9967, 1.0014, 0.9991, 1.0006, 0.9983, 1.0022, 1.0037, 1.0018, 0.9998,
          0.9983, 1.0014, 1.0030, 1.0022, 0.9909, 0.9983, 1.0022, 1.0037, 1.0041, 0.9998,
          0.9983, 0.9967, 0.9975, 0.9959, 0.9983, 0.9967, 0.9983, 0.9991, 0.9975, 0.9998,
          0.9959, 0.9944, 0.9952]
C6_MWL = [4710.33, 4712.5, 4713.2, 4714.0, 4716.18]
C6_MOD = [1.0, 1.0, 0.9997, 1.0, 1.0]

C7_WL = [4191.9, 4192.49, 4193.17, 4193.62, 4194.3, 4194.75, 4195.2, 4195.66, 4196.11, 4196.56, 4197.01, 4197.47,
         4197.92, 4198.37, 4198.82, 4199.28, 4199.59, 4199.86, 4200.18, 4200.5, 4200.86, 4201.31, 4201.76, 4202.22,
         4202.67, 4203.12, 4203.57, 4204.25, 4204.93, 4205.61, 4206.29, 4206.97, 4207.42, 4207.92]
C7_OBS = [1.0009, 1.003, 1.0051, 0.9987, 1.0009, 1.0051, 0.9966, 0.9944, 0.9923, 0.9859, 0.9794, 0.9666, 0.9537,
          0.9323, 0.9066, 0.8808, 0.8637, 0.8594, 0.8551, 0.868, 0.898, 0.9323, 0.9623, 0.9751, 0.9794, 0.9816,
          0.9859, 0.9901, 0.9923, 0.9944, 0.9931, 0.9966, 0.9901, 0.9974]
C7_MWL = [4191.9, 4194.52, 4196.11, 4197.01, 4197.69, 4198.37, 4199.05, 4199.59, 4200.04, 4200.5, 4200.95, 4201.4,
          4201.99, 4202.67, 4203.57, 4204.93, 4206.74, 4207.92]
C7_MOD = [1.0, 0.9974, 0.9923, 0.9794, 0.9623, 0.9323, 0.8894, 0.8637, 0.8508, 0.8573, 0.8894, 0.928, 0.9601,
          0.9773, 0.9859, 0.9923, 0.9966, 0.9987]

C8_WL = [4534.7, 4535.22, 4535.78, 4536.33, 4536.89, 4537.44, 4538.0, 4538.56, 4538.93, 4539.3, 4539.67, 4540.04,
         4540.41, 4540.78, 4541.08, 4541.34, 4541.6, 4541.97, 4542.34, 4542.71, 4543.08, 4543.3, 4543.75, 4544.49,
         4545.23, 4545.97, 4546.71, 4547.46, 4547.9]
C8_OBS = [1.0011, 0.9984, 0.993, 0.9903, 0.9849, 0.9795, 0.9741, 0.9632, 0.9497, 0.9254, 0.893, 0.8551, 0.8227,
          0.8038, 0.7957, 0.8011, 0.8173, 0.8551, 0.8984, 0.9308, 0.9524, 0.9632, 0.9741, 0.9849, 0.9903, 0.993,
          0.993, 0.9957, 0.9968]
C8_MWL = [4534.7, 4536.33, 4537.44, 4538.37, 4539.11, 4539.67, 4540.22, 4540.71, 4541.08, 4541.45, 4541.89,
          4542.34, 4542.82, 4543.38, 4544.12, 4545.23, 4546.71, 4547.9]
C8_MOD = [1.0011, 0.9957, 0.9876, 0.9741, 0.947, 0.9038, 0.8497, 0.8173, 0.8065, 0.8119, 0.8443, 0.893, 0.9362,
          0.9659, 0.9822, 0.9914, 0.9957, 0.9968]

C9_WL = [4679.3, 4679.99, 4680.59, 4681.2, 4681.8, 4682.4, 4683.01, 4683.61, 4684.02, 4684.42, 4684.82, 4685.23,
         4685.63, 4685.91, 4686.24, 4686.64, 4687.04, 4687.45, 4687.85, 4688.26, 4688.86, 4689.46, 4690.27, 4691.07,
         4691.88, 4692.69, 4693.7]
C9_OBS = [1.0029, 1.0059, 1.0029, 1.0041, 1.0, 0.9912, 0.9735, 0.9441, 0.9147, 0.8794, 0.85, 0.8324, 0.8206,
          0.8176, 0.8265, 0.8618, 0.9088, 0.9559, 0.9853, 0.9941, 0.9971, 0.9941, 0.9959, 0.9982, 0.9959, 0.9971,
          0.9982]
C9_MWL = [4679.3, 4680.99, 4682.0, 4682.81, 4683.41, 4684.02, 4684.62, 4685.23, 4685.75, 4686.15, 4686.64,
          4687.12, 4687.53, 4687.93, 4688.45, 4689.46, 4693.7]
C9_MOD = [1.0012, 1.0, 0.9941, 0.9794, 0.9559, 0.9147, 0.8676, 0.8324, 0.8147, 0.8176, 0.85, 0.9088, 0.9618,
          0.9941, 1.0041, 1.0059, 1.0059]

# ================================================================ N11-029
D1_WL = [4332.3, 4333.5, 4334.7, 4335.7, 4336.5, 4337.1, 4337.7, 4338.3, 4338.7, 4339.02, 4339.3, 4339.5, 4339.58,
         4339.74, 4339.9, 4340.1, 4340.3, 4340.62, 4341.02, 4341.42, 4341.9, 4342.5, 4343.1, 4343.7, 4344.3, 4344.9,
         4345.3, 4345.9, 4346.6]
D1_OBS = [0.9735, 0.9675, 0.9614, 0.9373, 0.9012, 0.853, 0.7928, 0.7084, 0.6482, 0.6361, 0.6602, 0.7084, 0.7446,
          0.6602, 0.6181, 0.612, 0.6181, 0.6723, 0.7687, 0.853, 0.9012, 0.9253, 0.9193, 0.9157, 0.9133, 0.9072,
          0.9193, 0.9373, 0.9494]
D1_MWL = [4332.3, 4333.9, 4335.1, 4336.1, 4336.9, 4337.58, 4338.22, 4338.78, 4339.3, 4339.7, 4340.1, 4340.62,
          4341.18, 4341.82, 4342.5, 4343.3, 4344.3, 4345.5, 4346.6]
D1_MOD = [0.9855, 0.9735, 0.9494, 0.9012, 0.841, 0.7566, 0.6602, 0.588, 0.5542, 0.5578, 0.588, 0.6602, 0.7687,
          0.8651, 0.9193, 0.9494, 0.9675, 0.9795, 0.9855]

D2_WL = [6549.0, 6551.0, 6553.2, 6554.7, 6556.2, 6557.3, 6558.4, 6559.2, 6559.9, 6560.3, 6560.7, 6561.5, 6561.55,
         6562.85, 6562.9, 6563.3, 6564.0, 6564.7, 6565.5, 6566.6, 6567.7, 6568.8, 6570.3, 6571.8, 6573.6, 6575.5]
D2_OBS = [1.004, 1.0, 0.996, 0.987, 0.969, 0.947, 0.907, 0.863, 0.818, 0.80, 0.795, 0.79, 1.15, 1.15, 0.70, 0.72,
          0.792, 0.854, 0.907, 0.942, 0.96, 0.973, 0.987, 0.991, 1.0, 1.004]
D2_MWL = [6549.0, 6553.2, 6555.5, 6557.3, 6558.8, 6559.9, 6561.0, 6562.0, 6562.7, 6563.5, 6564.4, 6565.5, 6566.6,
          6568.1, 6570.3, 6573.3, 6575.5]
D2_MOD = [0.996, 0.987, 0.969, 0.933, 0.88, 0.818, 0.747, 0.707, 0.703, 0.73, 0.791, 0.862, 0.916, 0.951, 0.973,
          0.987, 0.991]

D3_WL = [4022.2, 4022.61, 4023.01, 4023.32, 4023.62, 4023.93, 4024.23, 4024.54, 4024.84, 4025.15, 4025.45, 4025.76,
         4026.02, 4026.27, 4026.57, 4026.87, 4027.12, 4027.38, 4027.69, 4028.09, 4028.5, 4028.91, 4029.35]
D3_OBS = [0.9973, 0.9883, 0.9703, 0.9748, 0.9477, 0.9297, 0.9027, 0.8486, 0.7946, 0.7495, 0.7135, 0.6955, 0.6928,
          0.7045, 0.7495, 0.8306, 0.9027, 0.9568, 0.9793, 0.9856, 0.991, 0.9946, 1.0]
D3_MWL = [4022.2, 4023.01, 4023.62, 4024.13, 4024.54, 4024.94, 4025.35, 4025.76, 4026.06, 4026.37, 4026.67,
          4026.98, 4027.28, 4027.59, 4027.99, 4028.6, 4029.35]
D3_MOD = [1.0, 0.991, 0.9748, 0.9387, 0.8757, 0.7946, 0.7315, 0.6973, 0.691, 0.7045, 0.7586, 0.8486, 0.9297,
          0.9703, 0.9883, 0.9946, 0.9973]

D4_WL = [4385.0, 4385.33, 4385.66, 4386.0, 4386.25, 4386.41, 4386.58, 4386.83, 4387.0, 4387.16, 4387.33, 4387.49,
         4387.66, 4387.82, 4387.99, 4388.16, 4388.32, 4388.49, 4388.74, 4388.99, 4389.24, 4389.4, 4389.57, 4389.82,
         4390.15, 4390.48, 4390.73, 4390.95]
D4_OBS = [0.9942, 0.9913, 0.9925, 0.9901, 0.9855, 0.9739, 0.9536, 0.9449, 0.9217, 0.8928, 0.8638, 0.8348, 0.8116,
          0.8029, 0.8, 0.8116, 0.8406, 0.8754, 0.9159, 0.9507, 0.9681, 0.9652, 0.9768, 0.9855, 0.9884, 0.9942,
          0.9901, 0.9913]
D4_MWL = [4385.0, 4385.75, 4386.16, 4386.5, 4386.83, 4387.16, 4387.49, 4387.82, 4388.07, 4388.41, 4388.74,
          4389.07, 4389.4, 4389.82, 4390.48, 4390.95]
D4_MOD = [1.0041, 1.0, 0.9884, 0.9565, 0.8986, 0.8406, 0.8058, 0.7971, 0.8029, 0.8406, 0.9043, 0.9623, 0.9913,
          1.0, 1.0029, 1.0041]

D5_WL = [4467.2, 4467.58, 4468.02, 4468.46, 4468.9, 4469.35, 4469.68, 4469.9, 4470.12, 4470.34, 4470.56, 4470.78,
         4471.0, 4471.16, 4471.29, 4471.45, 4471.67, 4471.89, 4472.11, 4472.33, 4472.66, 4473.11, 4473.55, 4473.99,
         4474.43, 4475.1]
D5_OBS = [0.981, 0.9762, 0.9714, 0.9667, 0.9571, 0.9429, 0.9238, 0.9095, 0.881, 0.8429, 0.7857, 0.7286, 0.681,
          0.6667, 0.6667, 0.6905, 0.7476, 0.8143, 0.881, 0.9286, 0.9571, 0.9714, 0.9743, 0.9781, 0.9857, 0.9905]
D5_MWL = [4467.2, 4468.24, 4468.9, 4469.46, 4469.9, 4470.23, 4470.56, 4470.85, 4471.12, 4471.34, 4471.6, 4471.89,
          4472.18, 4472.44, 4472.78, 4473.33, 4474.21, 4475.1]
D5_MOD = [1.0, 0.9952, 0.9857, 0.9667, 0.919, 0.8524, 0.7667, 0.7095, 0.6905, 0.6952, 0.7476, 0.8333, 0.9095,
          0.9571, 0.9838, 0.9933, 0.9981, 1.0]

D6_WL = [4710.35, 4710.6, 4710.85, 4711.01, 4711.26, 4711.43, 4711.6, 4711.76, 4711.93, 4712.09, 4712.26, 4712.43,
         4712.59, 4712.76, 4713.01, 4713.17, 4713.34, 4713.51, 4713.67, 4713.84, 4714.09, 4714.34, 4714.59, 4714.84,
         4715.08, 4715.33, 4715.58, 4715.83, 4716.08, 4716.2]
D6_OBS = [0.9964, 0.999, 0.9964, 0.999, 0.9939, 0.9913, 0.9786, 0.9658, 0.9429, 0.9173, 0.8918, 0.8663, 0.8459,
          0.8383, 0.8357, 0.8408, 0.8561, 0.8765, 0.902, 0.9224, 0.948, 0.9658, 0.9811, 0.9888, 0.9913, 0.999,
          0.9964, 1.0, 1.0015, 0.999]
D6_MWL = [4710.35, 4711.18, 4711.51, 4711.85, 4712.18, 4712.51, 4712.76, 4713.01, 4713.26, 4713.59, 4713.92,
          4714.25, 4714.54, 4714.84, 4715.33, 4716.2]
D6_MOD = [1.0015, 1.0, 0.9888, 0.9531, 0.9071, 0.8714, 0.8561, 0.852, 0.8587, 0.8867, 0.9276, 0.9633, 0.9862,
          0.998, 1.0, 1.0005]

D7_WL = [4193.0, 4193.2, 4193.4, 4193.6, 4193.8, 4194.0, 4194.2, 4194.4, 4194.6, 4194.8,
         4195.0, 4195.2, 4195.4, 4195.6, 4195.8, 4196.0, 4196.2, 4196.4, 4196.6, 4196.8,
         4197.0, 4197.2, 4197.4, 4197.6, 4197.8, 4198.0, 4198.2, 4198.4, 4198.6, 4198.8,
         4199.0, 4199.2, 4199.4, 4199.6, 4199.8, 4200.0, 4200.2, 4200.4, 4200.6, 4200.8,
         4201.0, 4201.2, 4201.4, 4201.6, 4201.8, 4202.0, 4202.2, 4202.4, 4202.6, 4202.8,
         4203.0, 4203.2, 4203.4, 4203.6, 4203.8, 4204.0, 4204.2, 4204.4, 4204.6, 4204.8,
         4205.0, 4205.2, 4205.4, 4205.6, 4205.8, 4206.0, 4206.2, 4206.4, 4206.6, 4206.8,
         4207.0, 4207.1]
D7_OBS = [1.004, 0.997, 1.006, 0.995, 1.002, 0.998, 1.005, 0.993, 0.999, 1.001,
          0.994, 0.998, 0.989, 0.983, 0.992, 0.996, 0.990, 0.997, 0.994, 0.999,
          0.992, 0.996, 0.989, 0.993, 0.986, 0.978, 0.974, 0.969, 0.966, 0.960,
          0.957, 0.954, 0.952, 0.948, 0.944, 0.937, 0.941, 0.946, 0.952, 0.948,
          0.962, 0.972, 0.978, 0.983, 0.986, 0.981, 0.988, 0.991, 0.986, 0.993,
          0.990, 0.995, 0.989, 0.996, 0.992, 0.998, 0.993, 0.999, 0.994, 1.001,
          0.995, 0.999, 0.992, 1.002, 0.996, 0.993, 1.005, 0.997, 1.003, 0.994,
          1.000, 0.997]
D7_MWL = [4193.0, 4196.0, 4197.0, 4197.8, 4198.4, 4199.0, 4199.5, 4199.9, 4200.3, 4200.8, 4201.3, 4201.8, 4202.5,
          4203.5, 4205.0, 4207.1]
D7_MOD = [1.0, 0.998, 0.994, 0.987, 0.978, 0.966, 0.958, 0.956, 0.958, 0.966, 0.977, 0.986, 0.993, 0.997, 0.999,
          1.0]

D8_WL = [4535.90, 4536.05, 4536.20, 4536.35, 4536.50, 4536.65, 4536.80, 4536.95, 4537.10, 4537.25,
         4537.40, 4537.55, 4537.70, 4537.85, 4538.00, 4538.15, 4538.30, 4538.45, 4538.60, 4538.75,
         4538.90, 4539.05, 4539.20, 4539.35, 4539.50, 4539.65, 4539.80, 4539.95, 4540.10, 4540.25,
         4540.40, 4540.55, 4540.70, 4540.85, 4541.00, 4541.15, 4541.30, 4541.45, 4541.60, 4541.75,
         4541.90, 4542.05, 4542.20, 4542.35, 4542.50, 4542.65, 4542.80, 4542.95, 4543.10, 4543.25,
         4543.40, 4543.55, 4543.70, 4543.85, 4544.00, 4544.15, 4544.30, 4544.45, 4544.60, 4544.75,
         4544.90, 4545.05, 4545.20, 4545.35, 4545.50, 4545.65, 4545.80, 4545.95, 4546.10, 4546.25,
         4546.40, 4546.55]
D8_OBS = [1.002, 0.999, 1.004, 0.998, 1.003, 1.000, 0.997, 1.003, 0.999, 1.001,
          0.998, 1.002, 0.997, 1.000, 0.996, 0.999, 0.995, 0.997, 0.993, 0.996,
          0.991, 0.993, 0.988, 0.990, 0.984, 0.986, 0.979, 0.974, 0.970, 0.965,
          0.961, 0.955, 0.950, 0.946, 0.940, 0.936, 0.932, 0.929, 0.931, 0.934,
          0.938, 0.945, 0.952, 0.958, 0.964, 0.970, 0.975, 0.980, 0.984, 0.988,
          0.986, 0.991, 0.994, 0.989, 0.995, 0.997, 0.992, 0.998, 0.994, 0.999,
          0.995, 1.001, 0.996, 0.993, 0.999, 0.995, 1.002, 0.996, 0.999, 0.994,
          1.000, 0.997]
D8_MWL = [4535.9, 4537.5, 4538.5, 4539.3, 4539.9, 4540.4, 4540.9, 4541.3, 4541.6, 4542.0, 4542.5, 4543.0, 4543.6,
          4544.3, 4545.3, 4546.6]
D8_MOD = [0.9985, 0.997, 0.993, 0.986, 0.976, 0.964, 0.953, 0.948, 0.948, 0.954, 0.966, 0.978, 0.988, 0.994, 0.998,
          0.9995]

D9_WL = [4682.4, 4682.8, 4683.2, 4683.5, 4683.8, 4684.0, 4684.2, 4684.4, 4684.6, 4684.8, 4685.0, 4685.2, 4685.4,
         4685.6, 4685.8, 4686.0, 4686.2, 4686.4, 4686.6, 4686.8, 4687.0, 4687.2, 4687.4, 4687.7, 4688.0, 4688.4,
         4688.8, 4689.2, 4689.45]
D9_OBS = [0.9978, 0.9964, 0.9933, 0.991, 0.9866, 0.9821, 0.9687, 0.9552, 0.9418, 0.9283, 0.9149, 0.897, 0.8836,
          0.8724, 0.8679, 0.8657, 0.8746, 0.8925, 0.9194, 0.9418, 0.9642, 0.9821, 0.9888, 0.9955, 0.9991, 1.0009,
          1.0, 1.0009, 1.0]
D9_MWL = [4682.4, 4683.2, 4683.8, 4684.2, 4684.5, 4684.8, 4685.1, 4685.4, 4685.7, 4686.0, 4686.3, 4686.6, 4686.9,
          4687.2, 4687.5, 4688.0, 4689.45]
D9_MOD = [1.0, 0.9978, 0.9888, 0.9642, 0.9328, 0.897, 0.8657, 0.8433, 0.8343, 0.8365, 0.8567, 0.897, 0.9418,
          0.9754, 0.991, 0.9964, 0.9978]

# ---------------------------------------------------------------- assemble (references only)
PANELS = [
    dict(title=STAR_TITLES[0], xlim=XLIM_A, xt=XTICKS_A, ylim=YLIM_A, yt=YTICKS_A,
         obs=[(A1_WL, A1_OBS), (A2_WL, A2_OBS), (A3_WL, A3_OBS), (A4_WL, A4_OBS), (A5_WL, A5_OBS),
              (A6_WL, A6_OBS), (A7_WL, A7_OBS), (A8_WL, A8_OBS), (A9_WL, A9_OBS)],
         mod=[(A1_MWL, A1_MOD), (A2_MWL, A2_MOD), (A3_MWL, A3_MOD), (A4_MWL, A4_MOD), (A5_MWL, A5_MOD),
              (A6_MWL, A6_MOD), (A7_MWL, A7_MOD), (A8_MWL, A8_MOD), (A9_MWL, A9_MOD)],
         alt=None),
    dict(title=STAR_TITLES[1], xlim=XLIM_B, xt=XTICKS_B, ylim=YLIM_B, yt=YTICKS_B,
         obs=[(B1_WL, B1_OBS), (B2_WL, B2_OBS), (B3_WL, B3_OBS), (B4_WL, B4_OBS), (B5_WL, B5_OBS),
              (B6_WL, B6_OBS), (B7_WL, B7_OBS), (B8_WL, B8_OBS), (B9_WL, B9_OBS)],
         mod=[(B1_MWL, B1_MOD), (B2_MWL, B2_MOD), (B3_MWL, B3_MOD), (B4_MWL, B4_MOD), (B5_MWL, B5_MOD),
              (B6_MWL, B6_MOD), (B7_MWL, B7_MOD), (B8_MWL, B8_MOD), (B9_MWL, B9_MOD)],
         alt=None),
    dict(title=STAR_TITLES[2], xlim=XLIM_C, xt=XTICKS_C, ylim=YLIM_C, yt=YTICKS_C,
         obs=[(C1_WL, C1_OBS), (C2_WL, C2_OBS), (C3_WL, C3_OBS), (C4_WL, C4_OBS), (C5_WL, C5_OBS),
              (C6_WL, C6_OBS), (C7_WL, C7_OBS), (C8_WL, C8_OBS), (C9_WL, C9_OBS)],
         mod=[(C1_MWL, C1_MOD), (C2_MWL, C2_MOD), (C3_MWL, C3_MOD), (C4_MWL, C4_MOD), (C5_MWL, C5_MOD),
              (C6_MWL, C6_MOD), (C7_MWL, C7_MOD), (C8_MWL, C8_MOD), (C9_MWL, C9_MOD)],
         alt=[(C1_MWL, C1_MOD), (C2_MWL, C2_MOD), (C3_MWL, C3_MOD), (C4_MWL, C4_MOD), (C5_DWL, C5_DOT),
              (C6_MWL, C6_MOD), (C7_MWL, C7_MOD), (C8_MWL, C8_MOD), (C9_MWL, C9_MOD)]),
    dict(title=STAR_TITLES[3], xlim=XLIM_D, xt=XTICKS_D, ylim=YLIM_D, yt=YTICKS_D,
         obs=[(D1_WL, D1_OBS), (D2_WL, D2_OBS), (D3_WL, D3_OBS), (D4_WL, D4_OBS), (D5_WL, D5_OBS),
              (D6_WL, D6_OBS), (D7_WL, D7_OBS), (D8_WL, D8_OBS), (D9_WL, D9_OBS)],
         mod=[(D1_MWL, D1_MOD), (D2_MWL, D2_MOD), (D3_MWL, D3_MOD), (D4_MWL, D4_MOD), (D5_MWL, D5_MOD),
              (D6_MWL, D6_MOD), (D7_MWL, D7_MOD), (D8_MWL, D8_MOD), (D9_MWL, D9_MOD)],
         alt=None),
]

# ---------------------------------------------------------------- layout (pixels)
W, H = 1269, 1331
BOXES = [(8, 2, 626, 650), (645, 2, 1262, 650), (8, 680, 626, 1327), (645, 680, 1262, 1327)]
COL_OFF = [[49, 253, 456], [52, 256, 460], [49, 253, 456], [52, 256, 460]]
TITLE_OFF = [230, 238, 230, 236]
ROWS_TOP = [(50, 199), (261, 409), (472, 620)]
AX_W = 141
MINOR_DIV = {10: 5, 5: 5, 4: 4, 2: 4, 3: 3, 8: 4, 6: 6}

sns.set_theme(style="ticks")
plt.rcParams["font.family"] = ["Liberation Sans", "DejaVu Sans"]
plt.rcParams["axes.linewidth"] = 1.1
plt.rcParams["text.color"] = "black"
plt.rcParams["axes.titlecolor"] = "black"
plt.rcParams["xtick.color"] = "black"
plt.rcParams["ytick.color"] = "black"

fig = plt.figure(figsize=(W / 100, H / 100), dpi=100)
fig.patch.set_facecolor("white")

GRAY = "#9a9a9a"
LIGHT = "#d2d2d2"

for p, panel in enumerate(PANELS):
    bx0, by0, bx1, by1 = BOXES[p]
    fig.add_artist(Rectangle((bx0 / W, 1 - by1 / H), (bx1 - bx0) / W, (by1 - by0) / H,
                             transform=fig.transFigure, fill=False, ec="#555555", lw=1.0))
    fig.text((bx0 + TITLE_OFF[p]) / W, 1 - (by0 + 16) / H, panel["title"],
             ha="left", va="center", fontsize=15.5, color="black")
    for k in range(9):
        r, c = divmod(k, 3)
        yt0, yt1 = ROWS_TOP[r]
        yt0 += by0 - 2
        yt1 += by0 - 2
        x0 = bx0 + COL_OFF[p][c]
        ax = fig.add_axes([x0 / W, 1 - yt1 / H, AX_W / W, (yt1 - yt0) / H])
        wl, fl = panel["obs"][k]
        mwl, mfl = panel["mod"][k]
        sns.lineplot(x=mwl, y=mfl, ax=ax, color=GRAY, linewidth=2.4, estimator=None, sort=False,
                     legend=False, zorder=2)
        if panel["alt"] is not None:
            awl, afl = panel["alt"][k]
            sns.lineplot(x=awl, y=afl, ax=ax, color=LIGHT, linewidth=1.4, estimator=None, sort=False,
                         legend=False, zorder=3, linestyle=(0, (2.5, 2.5)))
        sns.lineplot(x=wl, y=fl, ax=ax, color="black", linewidth=0.8, estimator=None, sort=False,
                     legend=False, zorder=4)
        ax.set_xlim(*panel["xlim"][k])
        ax.set_ylim(*panel["ylim"][k])
        xt = panel["xt"][k]
        yt = panel["yt"][k]
        ax.xaxis.set_major_locator(FixedLocator(xt))
        ax.xaxis.set_major_formatter(FormatStrFormatter("%d"))
        ax.xaxis.set_minor_locator(AutoMinorLocator(MINOR_DIV.get(int(round(xt[1] - xt[0])), 4)))
        ax.yaxis.set_major_locator(FixedLocator(yt))
        ax.yaxis.set_major_formatter(FormatStrFormatter("%.2f"))
        ax.yaxis.set_minor_locator(AutoMinorLocator(2))
        ax.tick_params(which="both", direction="in", top=True, right=True, colors="black",
                       labelcolor="black", labelsize=11, pad=5, width=0.9)
        ax.tick_params(which="major", length=5)
        ax.tick_params(which="minor", length=2.5)
        for s in ax.spines.values():
            s.set_visible(True)
            s.set_color("black")
            s.set_linewidth(1.1)
        ax.set_xlabel("")
        ax.set_ylabel("")
        ax.set_title(LINE_NAMES[k], fontsize=11, pad=4, color="black")

fig.savefig("out.png", dpi=100, facecolor="white")
